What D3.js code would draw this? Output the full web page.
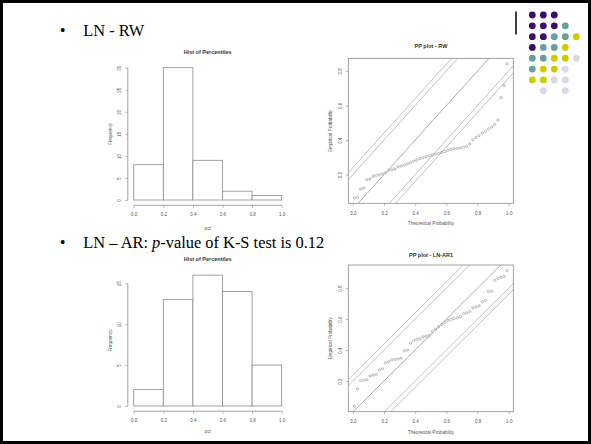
<!DOCTYPE html>
<html><head><meta charset="utf-8">
<script src="https://cdn.jsdelivr.net/npm/d3@7/dist/d3.min.js"></script>
<style>html,body{margin:0;padding:0;background:#fff;}svg{display:block;}</style>
</head><body>
<svg id="c" width="591" height="444"></svg>
<script>
// ---------- data ----------
const binEdges = [0, 0.2, 0.4, 0.6, 0.8, 1.0];
const countsRW = [8, 30, 9, 2, 1];
const countsAR = [2, 13, 16, 14, 5];
const ppTheoretical = [0.01,0.03,0.05,0.07,0.09,0.11,0.13,0.15,0.17,0.19,
  0.21,0.23,0.25,0.27,0.29,0.31,0.33,0.35,0.37,0.39,
  0.41,0.43,0.45,0.47,0.49,0.51,0.53,0.55,0.57,0.59,
  0.61,0.63,0.65,0.67,0.69,0.71,0.73,0.75,0.77,0.79,
  0.81,0.83,0.85,0.87,0.89,0.91,0.93,0.95,0.97,0.99];
const ppEmpiricalRW = [0.065,0.068,0.115,0.122,0.170,0.175,0.190,0.195,0.200,0.205,
  0.212,0.225,0.228,0.232,0.245,0.250,0.256,0.262,0.270,0.278,
  0.284,0.292,0.298,0.304,0.310,0.314,0.318,0.322,0.328,0.334,
  0.340,0.346,0.350,0.352,0.354,0.358,0.365,0.378,0.402,0.415,
  0.425,0.440,0.450,0.465,0.475,0.490,0.515,0.645,0.715,0.842];
const ppEmpiricalAR = [0.037,0.148,0.203,0.205,0.208,0.232,0.238,0.242,0.272,0.278,
  0.318,0.325,0.338,0.340,0.342,0.348,0.395,0.400,0.445,0.462,
  0.468,0.472,0.485,0.490,0.495,0.520,0.535,0.550,0.565,0.578,
  0.590,0.598,0.603,0.608,0.615,0.635,0.640,0.648,0.672,0.678,
  0.685,0.712,0.720,0.778,0.780,0.850,0.862,0.870,0.875,0.914];
const ksBandOffsets = [-0.24, -0.20, 0, 0.20, 0.24];
const probTicks = [0, 0.2, 0.4, 0.6, 0.8, 1.0];
const ppYTicks = [0.2, 0.4, 0.6, 0.8];
const freqTicksRW = [0, 5, 10, 15, 20, 25, 30];
const freqTicksAR = [0, 5, 10, 15];
const histTitle = "Hist of Percentiles";
const ppTitles = ["PP plot - RW", "PP plot - LN-AR1"];
const bulletTexts = [["LN - RW"], ["LN \u2013 AR: ", "p", "-value of K-S test is 0.12"]];
// decorative dot grid (P purple, T teal, Y yellow, L lavender)
const dotRows = ["PPP..", "PPPT.", "PPTTY", "PTTY.", "TTYYL", "TYYL.", "YYLL.", ".L.L."];
const dotColors = {P: "#3b0d6b", T: "#679e9e", Y: "#cccc00", L: "#d8d8ec"};

// ---------- drawing ----------
const svg = d3.select("#c");
svg.append("rect").attr("x", 1.5).attr("y", 1.5).attr("width", 588).attr("height", 441)
  .attr("fill", "#fff").attr("stroke", "#000").attr("stroke-width", 3);

const SANS = "'Liberation Sans', Arial, sans-serif";
const SERIF = "'Liberation Serif', 'Times New Roman', serif";
const LBL = 4.7, TCK = 4.5, TTL = 5.5;
const lineCol = "#8a8a8a", txtCol = "#555";

// bullets
const bulletY = [36, 247.5];
bulletTexts.forEach((parts, i) => {
  svg.append("text").attr("x", 62.7).attr("y", bulletY[i]).attr("text-anchor", "middle")
    .attr("font-family", SERIF).attr("font-size", 16.4).text("\u2022");
  const t = svg.append("text").attr("x", 83.3).attr("y", bulletY[i])
    .attr("font-family", SERIF).attr("font-size", 16.4).attr("fill", "#000");
  parts.forEach((p, j) => {
    t.append("tspan").attr("font-style", (parts.length > 1 && j === 1) ? "italic" : "normal").text(p);
  });
});

// vertical rule & dot grid
svg.append("line").attr("x1", 516).attr("x2", 516).attr("y1", 11.5).attr("y2", 34.5)
  .attr("stroke", "#000").attr("stroke-width", 1.5);
const dc = d3.scaleLinear().domain([0, 4]).range([532.3, 576.3]);
const dr = d3.scaleLinear().domain([0, 7]).range([15, 90.7]);
const dots = [];
dotRows.forEach((row, r) => row.split("").forEach((ch, c) => { if (ch !== ".") dots.push({r, c, ch}); }));
svg.append("g").selectAll("circle").data(dots).join("circle")
  .attr("cx", d => dc(d.c)).attr("cy", d => dr(d.r)).attr("r", 3.4)
  .attr("fill", d => dotColors[d.ch]);

function styleAxis(g) {
  g.select(".domain").remove();
  g.selectAll(".tick line").attr("stroke", lineCol).attr("stroke-width", 0.6);
  g.selectAll(".tick text").attr("font-family", SANS).attr("font-size", TCK).attr("fill", txtCol);
}

function addLabels(L, titleText, xlab, ylab) {
  svg.append("text").attr("x", L.titleX).attr("y", L.titleY).attr("text-anchor", "middle")
    .attr("dominant-baseline", "central").attr("font-family", SANS).attr("font-weight", "bold")
    .attr("font-size", TTL).attr("fill", "#333").text(titleText);
  svg.append("text").attr("x", L.titleX).attr("y", L.xlabY).attr("text-anchor", "middle")
    .attr("dominant-baseline", "central").attr("font-family", SANS).attr("font-size", LBL)
    .attr("fill", txtCol).text(xlab);
  svg.append("text").attr("transform", `translate(${L.ylabX},${L.ylabY}) rotate(-90)`)
    .attr("text-anchor", "middle").attr("dominant-baseline", "central").attr("font-family", SANS)
    .attr("font-size", LBL).attr("fill", txtCol).text(ylab);
}

function drawHist(L, counts, yTicks) {
  const maxC = d3.max(counts);
  const x = d3.scaleLinear().domain([-0.04, 1.04]).range([L.left, L.right]);
  const y = d3.scaleLinear().domain([-0.04 * maxC, 1.04 * maxC]).range([L.bottom, L.top]);
  const g = svg.append("g");
  const bins = counts.map((c, i) => ({x0: binEdges[i], x1: binEdges[i + 1], c}));
  g.selectAll("rect").data(bins).join("rect")
    .attr("x", d => x(d.x0)).attr("width", d => x(d.x1) - x(d.x0))
    .attr("y", d => y(d.c)).attr("height", d => y(0) - y(d.c))
    .attr("fill", "#fff").attr("stroke", lineCol).attr("stroke-width", 0.8);
  const xa = g.append("g").attr("transform", `translate(0,${L.bottom})`)
    .call(d3.axisBottom(x).tickValues(probTicks).tickSize(2.5).tickFormat(d3.format(".1f")));
  styleAxis(xa);
  xa.selectAll(".tick text").attr("y", 9.5).attr("dy", "0.35em");
  xa.append("line").attr("x1", x(probTicks[0])).attr("x2", x(probTicks[probTicks.length - 1]))
    .attr("stroke", lineCol).attr("stroke-width", 0.8);
  const ya = g.append("g").attr("transform", `translate(${L.left},0)`)
    .call(d3.axisLeft(y).tickValues(yTicks).tickSize(2.5).tickFormat(d3.format("d")));
  styleAxis(ya);
  ya.selectAll(".tick text").attr("x", 0).attr("dy", "0.35em").attr("text-anchor", "middle")
    .attr("transform", "translate(-8,0) rotate(-90)");
  ya.append("line").attr("y1", y(yTicks[0])).attr("y2", y(yTicks[yTicks.length - 1]))
    .attr("stroke", lineCol).attr("stroke-width", 0.8);
  addLabels(L, histTitle, "pct", "Frequency");
}

function drawPP(L, emp, titleText, id) {
  const xe = d3.extent(ppTheoretical), ye = d3.extent(emp);
  const xp = (xe[1] - xe[0]) * 0.04, yp = (ye[1] - ye[0]) * 0.04;
  const x = d3.scaleLinear().domain([xe[0] - xp, xe[1] + xp]).range([L.left, L.right]);
  const y = d3.scaleLinear().domain([ye[0] - yp, ye[1] + yp]).range([L.bottom, L.top]);
  const g = svg.append("g");
  g.append("clipPath").attr("id", id).append("rect")
    .attr("x", L.left).attr("y", L.top).attr("width", L.right - L.left).attr("height", L.bottom - L.top);
  const dom = x.domain();
  g.append("g").attr("clip-path", `url(#${id})`).selectAll("line").data(ksBandOffsets).join("line")
    .attr("x1", x(dom[0])).attr("y1", c => y(dom[0] + c))
    .attr("x2", x(dom[1])).attr("y2", c => y(dom[1] + c))
    .attr("stroke", c => c === 0 ? "#8a8a8a" : "#a8a8a8").attr("stroke-width", 0.7);
  g.append("g").selectAll("circle").data(emp).join("circle")
    .attr("cx", (d, i) => x(ppTheoretical[i])).attr("cy", d => y(d)).attr("r", 1.15)
    .attr("fill", "none").attr("stroke", "#8f8f8f").attr("stroke-width", 0.6);
  g.append("rect").attr("x", L.left).attr("y", L.top).attr("width", L.right - L.left)
    .attr("height", L.bottom - L.top).attr("fill", "none").attr("stroke", lineCol).attr("stroke-width", 0.8);
  const xa = g.append("g").attr("transform", `translate(0,${L.bottom})`)
    .call(d3.axisBottom(x).tickValues(probTicks).tickSize(2.5).tickFormat(d3.format(".1f")));
  styleAxis(xa);
  xa.selectAll(".tick text").attr("y", 10).attr("dy", "0.35em");
  const ya = g.append("g").attr("transform", `translate(${L.left},0)`)
    .call(d3.axisLeft(y).tickValues(ppYTicks).tickSize(2.5).tickFormat(d3.format(".1f")));
  styleAxis(ya);
  ya.selectAll(".tick text").attr("x", 0).attr("dy", "0.35em").attr("text-anchor", "middle")
    .attr("transform", "translate(-7.5,0) rotate(-90)");
  addLabels(L, titleText, "Theoretical Probability", "Empirical Probability");
}

drawHist({left: 127.8, right: 287.6, top: 62.4, bottom: 205.3,
  titleX: 207.7, titleY: 51.7, xlabY: 228.3, ylabX: 110, ylabY: 134}, countsRW, freqTicksRW);
drawHist({left: 127.8, right: 287.6, top: 269.9, bottom: 411.2,
  titleX: 207.7, titleY: 259, xlabY: 431.7, ylabX: 110, ylabY: 340.5}, countsAR, freqTicksAR);
drawPP({left: 348.3, right: 513.3, top: 58.3, bottom: 203.3,
  titleX: 431, titleY: 46, xlabY: 223.3, ylabX: 330, ylabY: 130.8}, ppEmpiricalRW, ppTitles[0], "clipA");
drawPP({left: 348.3, right: 513.3, top: 265, bottom: 411.7,
  titleX: 431, titleY: 255, xlabY: 432.7, ylabX: 330, ylabY: 338.3}, ppEmpiricalAR, ppTitles[1], "clipB");
</script>
</body></html>
